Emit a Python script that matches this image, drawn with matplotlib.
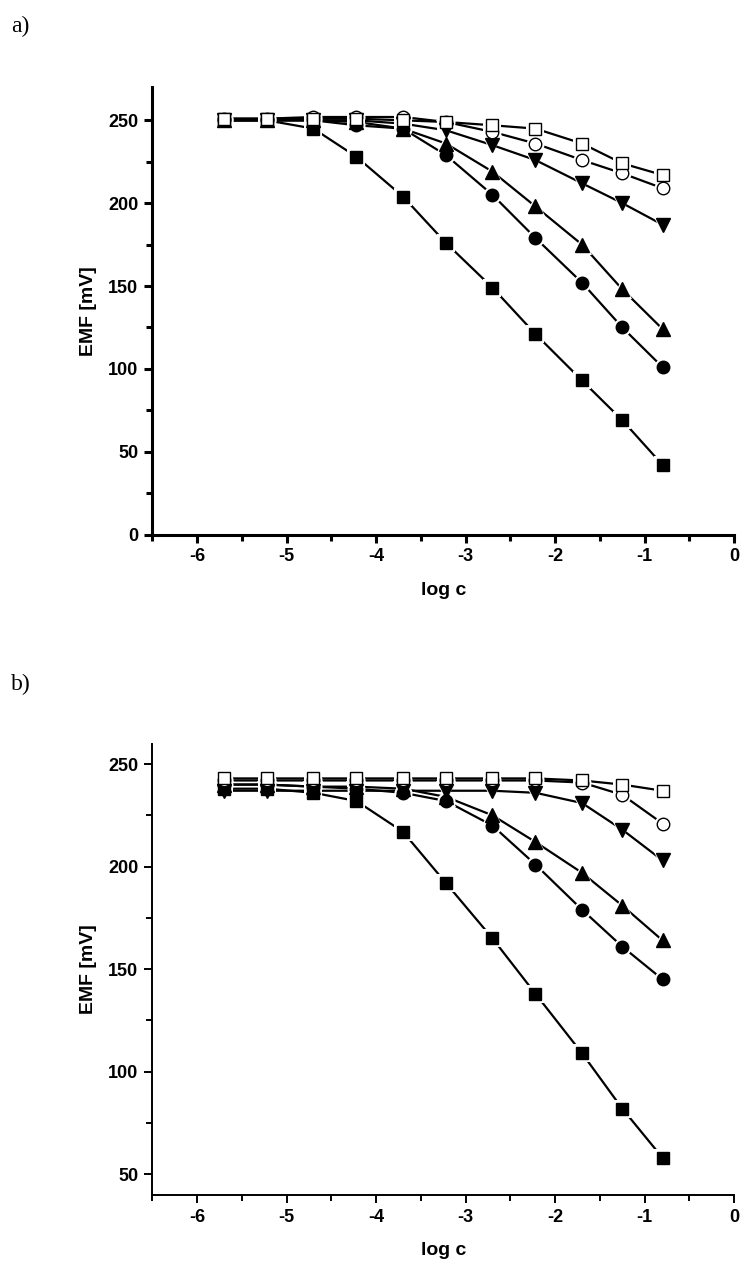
import matplotlib
matplotlib.use("Agg")
import matplotlib.pyplot as plt
from matplotlib.ticker import MultipleLocator

plt.rcParams['font.family'] = ['Liberation Sans', 'DejaVu Sans']
plt.rcParams['axes.unicode_minus'] = False

log_c = [-5.7, -5.22, -4.7, -4.22, -3.7, -3.22, -2.7, -2.22, -1.7, -1.25, -0.8]

# panel a
a_sq_fill = [250, 250, 245, 228, 204, 176, 149, 121, 93, 69, 42]
a_ci_fill = [250, 250, 250, 247, 245, 229, 205, 179, 152, 125, 101]
a_tu_fill = [250, 250, 250, 249, 245, 236, 219, 198, 175, 148, 124]
a_td_fill = [250, 250, 250, 250, 248, 244, 235, 226, 212, 200, 187]
a_ci_open = [251, 251, 252, 252, 252, 249, 243, 236, 226, 218, 209]
a_sq_open = [251, 251, 251, 251, 250, 249, 247, 245, 236, 224, 217]

# panel b
b_sq_fill = [238, 238, 236, 232, 217, 192, 165, 138, 109, 82, 58]
b_ci_fill = [240, 240, 239, 238, 236, 232, 220, 201, 179, 161, 145]
b_tu_fill = [240, 240, 239, 239, 238, 234, 225, 212, 197, 181, 164]
b_td_fill = [237, 237, 237, 237, 237, 237, 237, 236, 231, 218, 203]
b_ci_open = [242, 242, 242, 242, 242, 242, 242, 242, 241, 235, 221]
b_sq_open = [243, 243, 243, 243, 243, 243, 243, 243, 242, 240, 237]

styles = [('s', 'black', 8.5), ('o', 'black', 9), ('^', 'black', 10),
          ('v', 'black', 10), ('o', 'white', 9), ('s', 'white', 8.5)]

fig = plt.figure(figsize=(7.5, 12.82), dpi=100)
ax_a = fig.add_axes([0.203, 0.583, 0.776, 0.349])
ax_b = fig.add_axes([0.203, 0.068, 0.776, 0.352])


def draw(ax, series, ylim, ymajor, yminor, lw_spine):
    for ys in series:
        ax.plot(log_c, ys, color='black', lw=1.6, zorder=2)
    for ys, (m, fc, ms) in zip(series, styles):
        ax.plot(log_c, ys, ls='none', marker=m, ms=ms + 4, mfc='white',
                mec='white', mew=0, zorder=3)
        ax.plot(log_c, ys, ls='none', marker=m, ms=ms, mfc=fc,
                mec='black', mew=1.0, zorder=4)
    ax.set_xlim(-6.5, 0)
    ax.set_ylim(*ylim)
    ax.xaxis.set_major_locator(MultipleLocator(1))
    ax.xaxis.set_minor_locator(MultipleLocator(0.5))
    ax.yaxis.set_major_locator(MultipleLocator(ymajor))
    ax.yaxis.set_minor_locator(MultipleLocator(yminor))
    for s in ['top', 'right']:
        ax.spines[s].set_visible(False)
    for s in ['left', 'bottom']:
        ax.spines[s].set_linewidth(lw_spine)
    ax.tick_params(which='major', direction='out', length=6, width=lw_spine,
                   labelsize=13, pad=4)
    ax.tick_params(which='minor', direction='out', length=4, width=lw_spine)
    for lab in ax.get_xticklabels() + ax.get_yticklabels():
        lab.set_fontweight('bold')
    ax.set_xlabel('log c', fontsize=14, fontweight='bold', labelpad=12)
    ax.set_ylabel('EMF [mV]', fontsize=14, fontweight='bold', labelpad=8)


draw(ax_a, [a_sq_fill, a_ci_fill, a_tu_fill, a_td_fill, a_ci_open, a_sq_open],
     (0, 270), 50, 25, 2.2)
draw(ax_b, [b_sq_fill, b_ci_fill, b_tu_fill, b_td_fill, b_ci_open, b_sq_open],
     (40, 260), 50, 25, 1.4)

fig.text(0.015, 0.975, 'a)', fontsize=17, family=['Liberation Serif'])
fig.text(0.015, 0.462, 'b)', fontsize=17, family=['Liberation Serif'])

fig.savefig('out.png', dpi=100)
